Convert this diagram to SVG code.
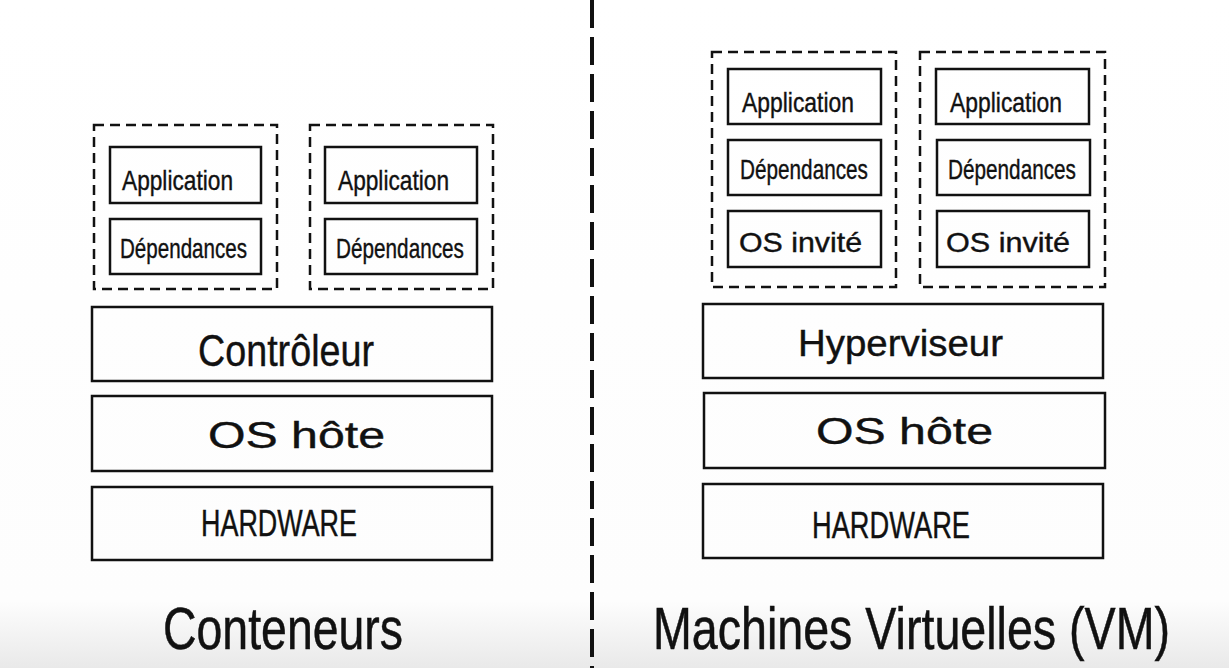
<svg xmlns="http://www.w3.org/2000/svg" width="1229" height="668" viewBox="0 0 1229 668">
<defs>
<linearGradient id="bg" x1="0" y1="0" x2="0" y2="1">
<stop offset="0" stop-color="#ffffff"/>
<stop offset="0.9" stop-color="#fdfdfd"/>
<stop offset="1" stop-color="#e9e9e9"/>
</linearGradient>
<style>
.box{fill:none;stroke:#111;stroke-width:2.5}
.dash{fill:none;stroke:#111;stroke-width:2.5;stroke-dasharray:10 6}
.t{font-family:"Liberation Sans",Arial,sans-serif;fill:#111;stroke:#111;stroke-width:0.4;text-anchor:start}
.s{font-size:28px}
.m{font-size:36px}
.l{font-size:44px}
.xl{font-size:46px}
</style>
</defs>
<rect width="1229" height="668" fill="url(#bg)"/>
<g id="connectors">
<line x1="592" y1="0" x2="592" y2="668" stroke="#111" stroke-width="4" stroke-dasharray="28 9"/>
</g>
<g id="container1">
<rect class="dash" x="94" y="125" width="183" height="164"/>
<g id="c1-app"><rect class="box" x="110" y="147" width="151" height="56"/><text class="t s" x="122" y="190" textLength="111" lengthAdjust="spacingAndGlyphs">Application</text></g>
<g id="c1-dep"><rect class="box" x="110" y="219" width="151" height="55"/><text class="t s" x="120" y="258" textLength="127" lengthAdjust="spacingAndGlyphs">Dépendances</text></g>
</g>
<g id="container2">
<rect class="dash" x="310" y="125" width="183" height="164"/>
<g id="c2-app"><rect class="box" x="325" y="147" width="152" height="56"/><text class="t s" x="338" y="190" textLength="111" lengthAdjust="spacingAndGlyphs">Application</text></g>
<g id="c2-dep"><rect class="box" x="325" y="219" width="152" height="55"/><text class="t s" x="336" y="258" textLength="128" lengthAdjust="spacingAndGlyphs">Dépendances</text></g>
</g>
<g id="controleur"><rect class="box" x="92" y="307" width="400" height="74"/><text class="t l" x="198" y="366" textLength="176" lengthAdjust="spacingAndGlyphs">Contrôleur</text></g>
<g id="os-hote-left"><rect class="box" x="92" y="396" width="400" height="75"/><text class="t m" x="208" y="448" textLength="177" lengthAdjust="spacingAndGlyphs">OS  hôte</text></g>
<g id="hardware-left"><rect class="box" x="92" y="487" width="400" height="73"/><text class="t m" x="201" y="536" textLength="156" lengthAdjust="spacingAndGlyphs">HARDWARE</text></g>
<g id="vm1">
<rect class="dash" x="712" y="52" width="184" height="235"/>
<g id="vm1-app"><rect class="box" x="728" y="69" width="153" height="55"/><text class="t s" x="742" y="112" textLength="112" lengthAdjust="spacingAndGlyphs">Application</text></g>
<g id="vm1-dep"><rect class="box" x="728" y="140" width="153" height="55"/><text class="t s" x="740" y="179" textLength="128" lengthAdjust="spacingAndGlyphs">Dépendances</text></g>
<g id="vm1-os"><rect class="box" x="728" y="211" width="153" height="56"/><text class="t s" x="739" y="252" textLength="123" lengthAdjust="spacingAndGlyphs">OS  invité</text></g>
</g>
<g id="vm2">
<rect class="dash" x="920" y="52" width="185" height="235"/>
<g id="vm2-app"><rect class="box" x="936" y="69" width="153" height="55"/><text class="t s" x="950" y="112" textLength="112" lengthAdjust="spacingAndGlyphs">Application</text></g>
<g id="vm2-dep"><rect class="box" x="937" y="140" width="153" height="55"/><text class="t s" x="948" y="179" textLength="128" lengthAdjust="spacingAndGlyphs">Dépendances</text></g>
<g id="vm2-os"><rect class="box" x="937" y="211" width="152" height="56"/><text class="t s" x="946" y="252" textLength="124" lengthAdjust="spacingAndGlyphs">OS  invité</text></g>
</g>
<g id="hyperviseur"><rect class="box" x="703" y="304" width="400" height="74"/><text class="t m" x="798" y="356" textLength="205" lengthAdjust="spacingAndGlyphs">Hyperviseur</text></g>
<g id="os-hote-right"><rect class="box" x="704" y="393" width="401" height="75"/><text class="t m" x="816" y="444" textLength="177" lengthAdjust="spacingAndGlyphs">OS  hôte</text></g>
<g id="hardware-right"><rect class="box" x="703" y="484" width="400" height="74"/><text class="t m" x="812" y="538" textLength="158" lengthAdjust="spacingAndGlyphs">HARDWARE</text></g>
<g id="titles">
<text class="t xl" transform="translate(163 649) scale(1 1.3)" x="0" y="0" textLength="240" lengthAdjust="spacingAndGlyphs">Conteneurs</text>
<text class="t xl" transform="translate(653 649) scale(1 1.3)" x="0" y="0" textLength="517" lengthAdjust="spacingAndGlyphs">Machines  Virtuelles (VM)</text>
</g>
</svg>
